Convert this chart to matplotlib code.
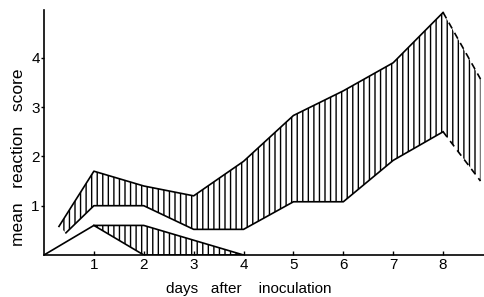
import numpy as np
import matplotlib
matplotlib.use("Agg")
import matplotlib.pyplot as plt

plt.rcParams['font.family'] = ['Liberation Sans', 'DejaVu Sans']
plt.rcParams['hatch.linewidth'] = 1.0

# upper band (solid part, days 0.3 .. 8)
up_x = [0.3, 1, 2, 3, 4, 5, 6, 7, 8]
up_y = [0.58, 1.7, 1.4, 1.2, 1.9, 2.83, 3.33, 3.9, 4.92]
lo_x = [0.44, 1, 2, 3, 4, 5, 6, 7, 8]
lo_y = [0.45, 1.0, 1.0, 0.52, 0.52, 1.08, 1.08, 1.92, 2.5]
# dashed continuation after day 8
dash_x = [8, 8.75]
dash_up = [4.92, 3.57]
dash_lo = [2.5, 1.5]

# lower band
low_top_x = [0, 1, 2, 4]
low_top_y = [0, 0.6, 0.6, 0]
low_bot_x = [1, 2, 4]
low_bot_y = [0.6, 0, 0]

xticks = [1, 2, 3, 4, 5, 6, 7, 8]
yticks = [1, 2, 3, 4]

fig = plt.figure(figsize=(4.84, 2.97), dpi=100)
ax = fig.add_axes([44/484, 42/297, 440/484, 245/297])

lw = 1.2
# hatched upper band
poly_x = np.r_[up_x, dash_x[1:], dash_x[::-1][:-1], lo_x[::-1]]
poly_y = np.r_[up_y, dash_up[1:], dash_lo[::-1][:-1], lo_y[::-1]]
ax.fill(poly_x, poly_y, facecolor='none', edgecolor='black', hatch='|||', linewidth=0)
ax.plot(up_x, up_y, color='black', lw=lw)
ax.plot(lo_x, lo_y, color='black', lw=lw)
ax.plot(dash_x, dash_up, color='black', lw=lw, ls=(0, (4, 3)))
ax.plot(dash_x, dash_lo, color='black', lw=lw, ls=(0, (4, 3)))

# hatched lower band
px = np.r_[low_top_x[1:], low_bot_x[::-1]]
py = np.r_[low_top_y[1:], low_bot_y[::-1]]
ax.fill(px, py, facecolor='none', edgecolor='black', hatch='|||', linewidth=0)
ax.plot(low_top_x, low_top_y, color='black', lw=lw)
ax.plot(low_bot_x, low_bot_y, color='black', lw=lw)

ax.set_xlim(0, 8.82)
ax.set_ylim(0, 4.97)
ax.spines['top'].set_visible(False)
ax.spines['right'].set_visible(False)
ax.spines['left'].set_linewidth(1.2)
ax.spines['bottom'].set_linewidth(1.2)
ax.set_xticks(xticks)
ax.set_yticks(yticks)
ax.tick_params(axis='x', direction='in', length=3, width=1, pad=2, labelsize=11)
ax.tick_params(axis='y', direction='out', length=2, width=1, pad=1, labelsize=11)
ax.set_xlabel('days   after    inoculation', fontsize=11, va='center')
ax.set_ylabel('mean   reaction   score', fontsize=12.5, va='center')
ax.xaxis.set_label_coords(0.466, -0.139)
ax.yaxis.set_label_coords(-0.059, 0.40)

fig.savefig('out.png', dpi=100)
